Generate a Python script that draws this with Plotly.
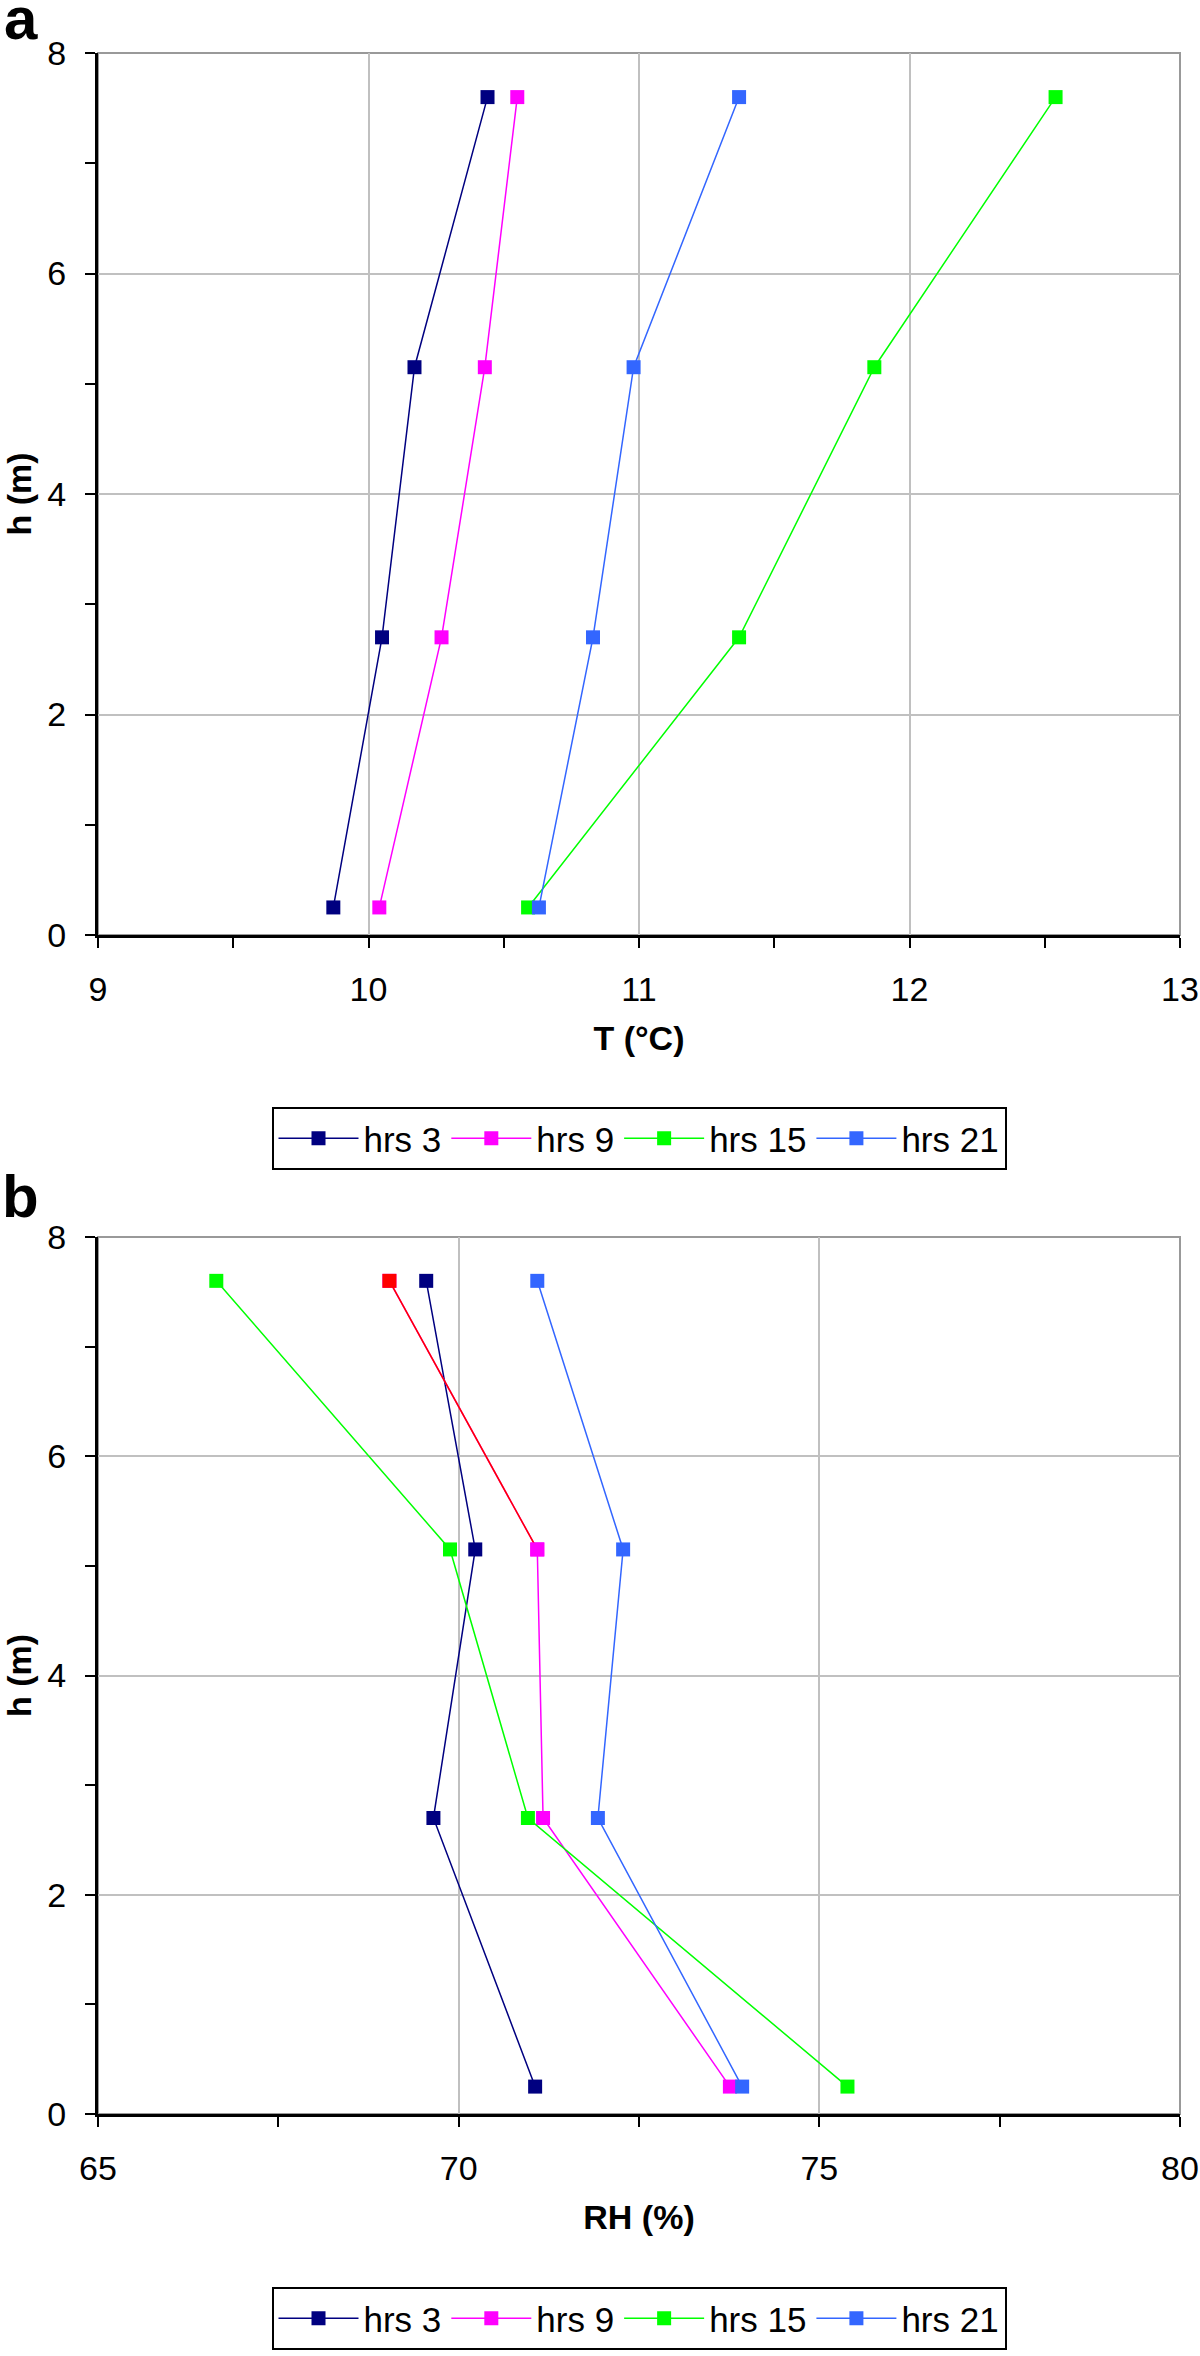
import plotly.graph_objects as go

# ---------------- data ----------------
heights = [0.25, 2.7, 5.15, 7.6]          # h (m)
series_names = ["hrs 3", "hrs 9", "hrs 15", "hrs 21"]
series_colors = ["#000080", "#ff00ff", "#00ff00", "#3366ff"]

temp_hrs3 = [9.87, 10.05, 10.17, 10.44]
temp_hrs9 = [10.04, 10.27, 10.43, 10.55]
temp_hrs15 = [10.59, 11.37, 11.87, 12.54]
temp_hrs21 = [10.63, 10.83, 10.98, 11.37]

rh_hrs3 = [71.06, 69.65, 70.23, 69.55]
rh_hrs9 = [73.76, 71.17, 71.09, 69.04]
rh_hrs15 = [75.39, 70.96, 69.88, 66.64]
rh_hrs21 = [73.93, 71.93, 72.28, 71.09]

temp_series = [temp_hrs3, temp_hrs9, temp_hrs15, temp_hrs21]
rh_series = [rh_hrs3, rh_hrs9, rh_hrs15, rh_hrs21]

temp_range = [9, 13]
rh_range = [65, 80]
h_range = [0, 8]

FONT = "Liberation Sans, Arial, sans-serif"
GRID = "#c0c0c0"
BORDER = "#999999"

fig = go.Figure()

# panel a
for name, col, vals in zip(series_names, series_colors, temp_series):
    fig.add_trace(go.Scatter(
        x=vals, y=heights, name=name, mode="lines+markers",
        line=dict(color=col, width=1.5),
        marker=dict(symbol="square", size=14, color=col, line=dict(width=0)),
        xaxis="x", yaxis="y", legend="legend",
    ))

# panel b
for name, col, vals in zip(series_names, series_colors, rh_series):
    fig.add_trace(go.Scatter(
        x=vals, y=heights, name=name, mode="lines+markers",
        line=dict(color=col, width=1.5),
        marker=dict(symbol="square", size=14, color=col, line=dict(width=0)),
        xaxis="x2", yaxis="y2", legend="legend2",
    ))

# upper segment of hrs 9 in panel b is drawn red in the original
fig.add_trace(go.Scatter(
    x=rh_hrs9[2:], y=heights[2:], mode="lines+markers", showlegend=False,
    line=dict(color="#ff0000", width=1.5),
    marker=dict(symbol="square", size=14, color=["#ff00ff", "#ff0000"], line=dict(width=0)),
    xaxis="x2", yaxis="y2", hoverinfo="skip",
))

W, H = 1200, 2356
ml = 98
mr = W - 1180
mt = 53
mb = H - 2114
ph = H - mt - mb
pw = W - ml - mr

def ypaper(page_y):
    return (H - mb - page_y) / ph

def xpaper(page_x):
    return (page_x - ml) / pw

tickfont = dict(family=FONT, size=34, color="black")
titlefont = dict(family=FONT, size=34, color="black", weight="bold")

def xax(rng, title, anchor, dtick, minor):
    return dict(
        range=rng, anchor=anchor, title=dict(text=title, font=titlefont, standoff=20),
        tickmode="linear", tick0=rng[0], dtick=dtick,
        ticks="outside", ticklen=10, tickwidth=2, tickcolor="black",
        minor=dict(dtick=minor, ticks="outside", ticklen=10, tickwidth=2, tickcolor="black", showgrid=False),
        showline=True, linecolor="black", linewidth=3,
        showgrid=True, gridcolor=GRID, gridwidth=2, zeroline=False,
        tickfont=tickfont, ticklabelstandoff=12, fixedrange=True,
    )

def yax(rng, title, anchor, domain):
    return dict(
        range=rng, anchor=anchor, domain=domain,
        title=dict(text=title, font=titlefont, standoff=14),
        tickmode="linear", tick0=0, dtick=2,
        ticks="outside", ticklen=10, tickwidth=2, tickcolor="black",
        minor=dict(dtick=1, ticks="outside", ticklen=10, tickwidth=2, tickcolor="black", showgrid=False),
        showline=True, linecolor="black", linewidth=3,
        showgrid=True, gridcolor=GRID, gridwidth=2, zeroline=False,
        tickfont=tickfont, ticklabelstandoff=12, fixedrange=True,
    )

legend_common = dict(
    orientation="h", xanchor="center", x=0.5, yanchor="top",
    bordercolor="black", borderwidth=2, bgcolor="white",
    font=dict(family=FONT, size=35, color="black"),
    itemwidth=80, itemclick=False, itemdoubleclick=False,
)

fig.update_layout(
    width=W, height=H,
    margin=dict(l=ml, r=mr, t=mt, b=mb, autoexpand=False),
    paper_bgcolor="white", plot_bgcolor="white",
    font=dict(family=FONT, color="black"),
    xaxis=xax(temp_range, "T (°C)", "y", 1, 0.5),
    yaxis=yax(h_range, "h (m)", "x", [ypaper(935), 1]),
    xaxis2=xax(rh_range, "RH (%)", "y2", 5, 2.5),
    yaxis2=yax(h_range, "h (m)", "x2", [0, ypaper(1237)]),
    legend=dict(legend_common, y=ypaper(1107)),
    legend2=dict(legend_common, y=ypaper(2287)),
    showlegend=True,
    shapes=[
        dict(type="rect", xref="x domain", yref="y domain", x0=0, x1=1, y0=0, y1=1,
             line=dict(color=BORDER, width=2), layer="below"),
        dict(type="rect", xref="x2 domain", yref="y2 domain", x0=0, x1=1, y0=0, y1=1,
             line=dict(color=BORDER, width=2), layer="below"),
    ],
    annotations=[
        dict(text="<b>a</b>", xref="paper", yref="paper", x=xpaper(2),
             y=ypaper(54), xanchor="left", yanchor="bottom", showarrow=False,
             font=dict(family=FONT, size=60, color="black")),
        dict(text="<b>b</b>", xref="paper", yref="paper", x=xpaper(0),
             y=ypaper(1232), xanchor="left", yanchor="bottom", showarrow=False,
             font=dict(family=FONT, size=60, color="black")),
    ],
)

# remove the default page margin so the figure fills the window exactly
fig.write_html(
    "out.html",
    config={"displayModeBar": False},
    post_script="document.body.style.margin='0';document.body.style.overflow='hidden';",
)
